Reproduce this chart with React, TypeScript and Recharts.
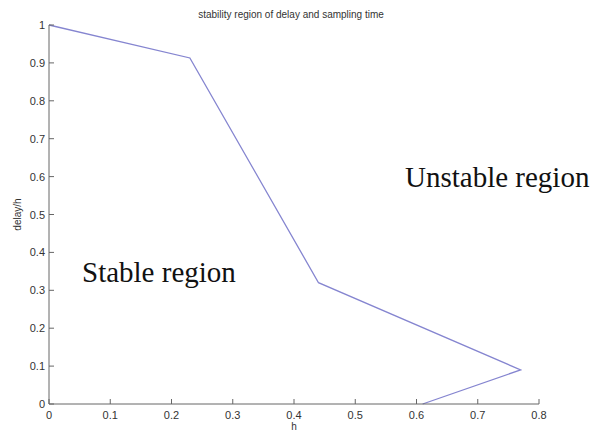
import React from "react";
import {
  LineChart,
  Line,
  XAxis,
  YAxis,
  Customized,
} from "recharts";

// boundary of the stable region (h vs delay/h)
const hValues = [0, 0.23, 0.44, 0.77, 0.61];
const delayValues = [1, 0.913, 0.32, 0.09, 0];

const xTicks = [0, 0.1, 0.2, 0.3, 0.4, 0.5, 0.6, 0.7, 0.8];
const yTicks = [0, 0.1, 0.2, 0.3, 0.4, 0.5, 0.6, 0.7, 0.8, 0.9, 1];

const title = "stability region of delay and sampling time";
const stableLabel = "Stable region";
const unstableLabel = "Unstable region";

const data = hValues.map((h, i) => ({ h, delay: delayValues[i] }));

const axisColor = "#666";
const textColor = "#333";
const sansFont = "'Liberation Sans', Arial, sans-serif";
const serifFont = "'Liberation Serif', 'Times New Roman', serif";

const XTick = (props: any) => {
  const { x, y, payload } = props;
  return (
    <g>
      <line x1={x} x2={x} y1={y} y2={y - 5} stroke={axisColor} />
      <text
        x={x}
        y={y + 15}
        textAnchor="middle"
        fontSize={11}
        fontFamily={sansFont}
        fill={textColor}
      >
        {payload.value}
      </text>
    </g>
  );
};

const YTick = (props: any) => {
  const { x, y, payload } = props;
  return (
    <g>
      <line x1={x} x2={x + 5} y1={y} y2={y} stroke={axisColor} />
      <text
        x={x - 4}
        y={y + 4}
        textAnchor="end"
        fontSize={11}
        fontFamily={sansFont}
        fill={textColor}
      >
        {payload.value}
      </text>
    </g>
  );
};

const Annotations = () => (
  <g>
    <text
      x={291}
      y={18}
      textAnchor="middle"
      fontSize={10}
      fontFamily={sansFont}
      fill={textColor}
    >
      {title}
    </text>
    <text x={82} y={282} fontSize={29} fontFamily={serifFont} fill="#111">
      {stableLabel}
    </text>
    <text x={405} y={187} fontSize={29} fontFamily={serifFont} fill="#111">
      {unstableLabel}
    </text>
  </g>
);

export default function App() {
  return (
    <div
      style={{
        position: "absolute",
        left: 0,
        top: 0,
        width: 600,
        height: 432,
        background: "#fff",
      }}
    >
      <LineChart
        width={600}
        height={432}
        data={data}
        margin={{ top: 25, right: 61, bottom: 0, left: 0 }}
      >
        <XAxis
          dataKey="h"
          type="number"
          domain={[0, 0.8]}
          ticks={xTicks}
          interval={0}
          height={28}
          tickSize={0}
          tickMargin={0}
          tickLine={false}
          tick={<XTick />}
          axisLine={{ stroke: axisColor }}
          label={{
            value: "h",
            position: "insideBottom",
            offset: 2,
            fontSize: 10,
            fontFamily: sansFont,
            fill: textColor,
          }}
        />
        <YAxis
          dataKey="delay"
          type="number"
          domain={[0, 1]}
          ticks={yTicks}
          interval={0}
          width={49}
          tickSize={0}
          tickMargin={0}
          tickLine={false}
          tick={<YTick />}
          axisLine={{ stroke: axisColor }}
          label={{
            value: "delay/h",
            angle: -90,
            position: "insideLeft",
            offset: 17,
            fontSize: 10,
            fontFamily: sansFont,
            fill: textColor,
            style: { textAnchor: "middle" },
          }}
        />
        <Line
          type="linear"
          dataKey="delay"
          stroke="#8585d0"
          strokeWidth={1.3}
          dot={false}
          isAnimationActive={false}
        />
        <Customized component={Annotations} />
      </LineChart>
    </div>
  );
}
